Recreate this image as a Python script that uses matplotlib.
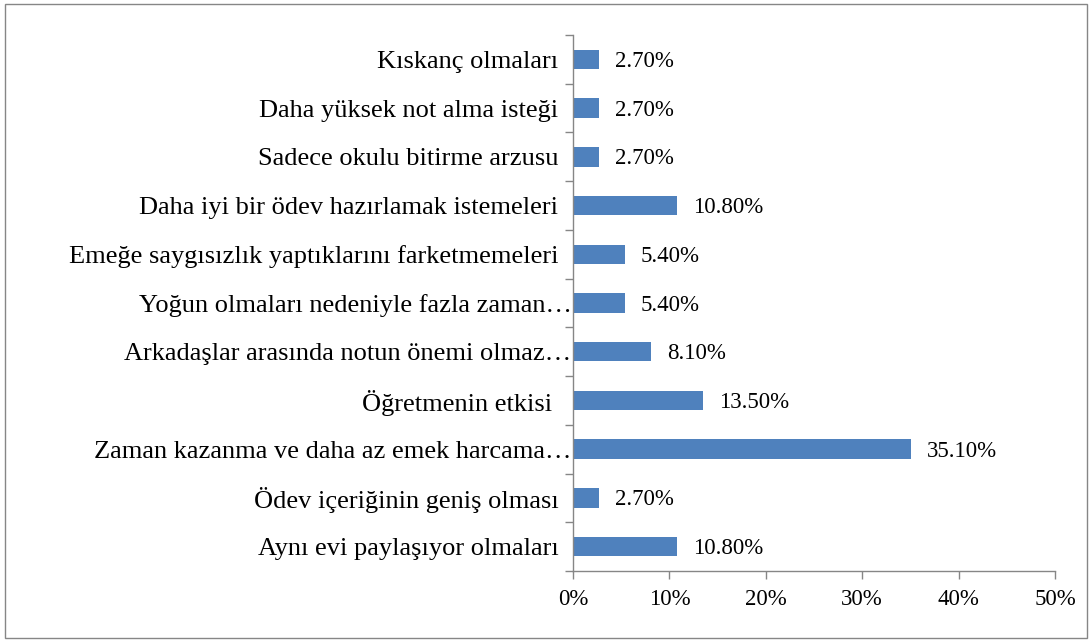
import matplotlib.pyplot as plt
from matplotlib.patches import Rectangle
from matplotlib.ticker import FuncFormatter
import numpy as np

plt.rcParams['font.family'] = ['Liberation Serif', 'DejaVu Serif']

# categories in data order (bottom to top, as Excel draws them)
categories = [
    "Aynı evi paylaşıyor olmaları  ",
    "Ödev içeriğinin geniş olması  ",
    "Zaman kazanma ve daha az emek harcama…",
    "Öğretmenin etkisi   ",
    "Arkadaşlar arasında notun önemi olmaz…",
    "Yoğun olmaları nedeniyle fazla zaman…",
    "Emeğe saygısızlık yaptıklarını farketmemeleri  ",
    "Daha iyi bir ödev hazırlamak istemeleri  ",
    "Sadece okulu bitirme arzusu  ",
    "Daha yüksek not alma isteği  ",
    "Kıskanç olmaları  ",
]
values = [10.8, 2.7, 35.1, 13.5, 8.1, 5.4, 5.4, 10.8, 2.7, 2.7, 2.7]
xticks = [0, 10, 20, 30, 40, 50]

fig = plt.figure(figsize=(10.92, 6.42), dpi=100)
ax = fig.add_axes([573/1092, 1 - 571/642, (1055 - 573)/1092, (571 - 35)/642])

y = np.arange(len(categories))
ax.barh(y, values, height=0.4, color='#4F81BD')
for yi, v in zip(y, values):
    ax.annotate(f"{v:.2f}%", (v, yi), xytext=(11.5, -1.5), textcoords='offset points',
                va='center', ha='left', fontsize=16.5)

ax.set_xlim(0, 50)
ax.set_ylim(-0.5, len(categories) - 0.5)
ax.set_xticks(xticks)
ax.xaxis.set_major_formatter(FuncFormatter(lambda v, p: f"{v:.0f}%"))
ax.set_yticks(y)
ax.set_yticklabels(categories)
ax.set_yticks(np.arange(-0.5, len(categories), 1), minor=True)
ax.tick_params(axis='y', which='major', length=0, pad=1, labelsize=19)
ax.tick_params(axis='y', which='minor', length=6, color='#868686', width=1)
ax.tick_params(axis='x', length=6, color='#868686', width=1, labelsize=16.5, pad=7)

for side in ['top', 'right']:
    ax.spines[side].set_visible(False)
for side in ['left', 'bottom']:
    ax.spines[side].set_color('#868686')
    ax.spines[side].set_linewidth(1)

fig.patches.append(Rectangle((5/1092, 4/642), 1082/1092, 634/642, transform=fig.transFigure,
                             fill=False, edgecolor='#868686', linewidth=1))

fig.savefig('out.png', dpi=100)
